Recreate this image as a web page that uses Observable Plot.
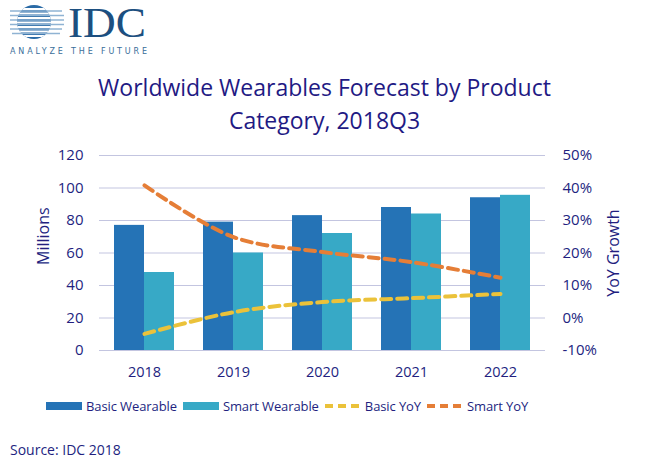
<!DOCTYPE html>
<html><head><meta charset="utf-8">
<script src="https://cdn.jsdelivr.net/npm/d3@7"></script>
<script src="https://cdn.jsdelivr.net/npm/@observablehq/plot@0.6"></script>
<style>
body{margin:0;background:#fff;font-family:"Open Sans",sans-serif;color:#231f7f;}
#wrap{position:relative;width:649px;height:459px;overflow:hidden;}
#title{position:absolute;left:0;top:71px;width:649px;text-align:center;font-size:23px;line-height:33px;color:#1f1a84;}
#chart{position:absolute;left:0;top:140px;}
#legend{position:absolute;left:46px;top:397px;display:flex;align-items:center;font-size:13px;letter-spacing:-0.1px;white-space:nowrap;}
#legend .it{display:flex;align-items:center;margin-right:6px;}
#legend svg{margin-right:4px;}
#source{position:absolute;left:10px;top:440px;font-size:14px;}
.ylab{position:absolute;font-size:16px;transform:rotate(-90deg);transform-origin:center;white-space:nowrap;}
</style></head>
<body><div id="wrap">
<svg id="logo" width="160" height="58" style="position:absolute;left:0;top:0">
  <defs><clipPath id="cc"><circle cx="34" cy="22" r="17"/></clipPath></defs>
  <g clip-path="url(#cc)">
    <rect x="10" y="4" width="50" height="40" fill="#2a6aa6"/>
    <g fill="#fff">
      <rect x="10" y="8" width="50" height="2"/><rect x="10" y="12.5" width="50" height="2"/>
      <rect x="10" y="17" width="50" height="2"/><rect x="10" y="21.5" width="50" height="2"/>
      <rect x="10" y="26" width="50" height="2"/><rect x="10" y="30.5" width="50" height="2"/>
      <rect x="10" y="35" width="50" height="2"/>
    </g>
  </g>
  <g stroke="#8fb3d3" stroke-width="1.3">
    <line x1="10" y1="11" x2="62" y2="11"/><line x1="10" y1="15.5" x2="64" y2="15.5"/>
    <line x1="10" y1="20" x2="64" y2="20"/><line x1="10" y1="24.5" x2="64" y2="24.5"/>
    <line x1="10" y1="29" x2="62" y2="29"/><line x1="12" y1="33.5" x2="60" y2="33.5"/>
  </g>
  <text x="68" y="37" font-family="Liberation Serif, serif" font-size="42" fill="#1c4f80" textLength="78" lengthAdjust="spacingAndGlyphs">IDC</text>
  <text x="10" y="54" font-family="DejaVu Sans, sans-serif" font-size="8" fill="#3a6e9a" textLength="137" lengthAdjust="spacing">ANALYZE THE FUTURE</text>
</svg>
<div id="title">Worldwide Wearables Forecast by Product<br>Category, 2018Q3</div>
<div id="chart"></div>
<div class="ylab" style="left:15px;top:226px;width:56px;text-align:center;">Millions</div>
<div class="ylab" style="left:568px;top:242px;width:90px;text-align:center;">YoY Growth</div>
<div id="legend"></div>
<div id="source">Source: IDC 2018</div>
</div>
<script>
const years = ["2018","2019","2020","2021","2022"];
const basicWearable = [77, 79, 83, 88, 94];
const smartWearable = [48, 60, 72, 84, 95.5];
const basicYoY = [-4.9, 1.8, 4.9, 6.1, 7.4];
const smartYoY = [40.8, 24.9, 20.3, 17.2, 12.4];
const leftTicks = [0, 20, 40, 60, 80, 100, 120];
const rightTicks = [-10, 0, 10, 20, 30, 40, 50];

const colBasic = "#2573b6", colSmart = "#37a9c6", colBasicYoY = "#ebc23a", colSmartYoY = "#e57e37";
const textCol = "#231f7f";

// map right-axis percent onto left-axis scale (-10..50 -> 0..120)
const toLeft = p => (p + 10) * 2;

const bars = years.map((y, i) => ({year: y, basic: basicWearable[i], smart: smartWearable[i]}));
const yoy = years.map((y, i) => ({year: y, basic: toLeft(basicYoY[i]), smart: toLeft(smartYoY[i])}));

const chart = Plot.plot({
  width: 649, height: 245,
  marginLeft: 99, marginRight: 104, marginTop: 15, marginBottom: 35,
  style: {fontFamily: "Open Sans, sans-serif", fontSize: "14px", color: textCol, background: "transparent"},
  x: {domain: years, paddingInner: 0.33, paddingOuter: 0.165, label: null},
  y: {domain: [0, 120], label: null},
  marks: [
    Plot.ruleY(leftTicks, {stroke: "#c3c5e0", strokeWidth: 1}),
    Plot.barY(bars, {x: "year", y: "basic", fill: colBasic, insetRight: 30}),
    Plot.barY(bars, {x: "year", y: "smart", fill: colSmart, insetLeft: 30}),
    Plot.line(yoy, {x: "year", y: "smart", stroke: colSmartYoY, strokeWidth: 4, strokeDasharray: "10,6", curve: "catmull-rom"}),
    Plot.line(yoy, {x: "year", y: "basic", stroke: colBasicYoY, strokeWidth: 4, strokeDasharray: "10,6", curve: "catmull-rom"}),
    Plot.axisX({tickSize: 0, tickPadding: 16, fontSize: 14.5, label: null}),
    Plot.axisY({ticks: leftTicks, tickSize: 0, tickPadding: 16, fontSize: 15, label: null}),
    Plot.axisY({anchor: "right", ticks: rightTicks.map(toLeft), tickFormat: (d, i) => rightTicks[i] + "%", tickSize: 0, tickPadding: 17, fontSize: 15, label: null})
  ]
});
document.getElementById("chart").appendChild(chart);

// legend
const legendItems = [
  {label: "Basic Wearable", color: colBasic, type: "rect"},
  {label: "Smart Wearable", color: colSmart, type: "rect"},
  {label: "Basic YoY", color: colBasicYoY, type: "dash"},
  {label: "Smart YoY", color: colSmartYoY, type: "dash"}
];
const lg = document.getElementById("legend");
for (const it of legendItems) {
  const d = document.createElement("div"); d.className = "it";
  const sw = it.type === "rect"
    ? `<svg width="36" height="10"><rect x="0" y="1" width="36" height="8" fill="${it.color}"/></svg>`
    : `<svg width="36" height="10"><line x1="0" y1="5" x2="36" y2="5" stroke="${it.color}" stroke-width="4" stroke-dasharray="8,5"/></svg>`;
  d.innerHTML = sw + `<span>${it.label}</span>`;
  lg.appendChild(d);
}
</script>
</body></html>
